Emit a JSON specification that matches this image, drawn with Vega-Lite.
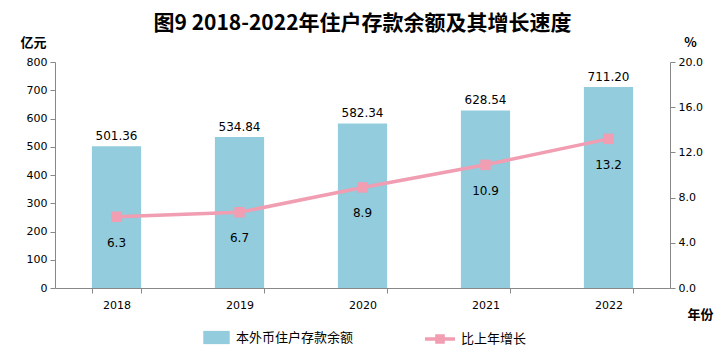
{
  "$schema": "https://vega.github.io/schema/vega-lite/v6.json",
  "width": 615,
  "height": 226,
  "autosize": "none",
  "padding": {"left": 55, "top": 62, "right": 49, "bottom": 63},
  "background": "white",
  "config": {
    "view": {"stroke": null},
    "font": "Noto Sans CJK SC",
    "axis": {"grid": false, "domainColor": "#888888", "tickColor": "#888888", "labelColor": "#000000", "labelFontSize": 11, "labelFont": "DejaVu Sans", "titleFont": "Noto Sans CJK SC", "titleFontWeight": "bold", "titleFontSize": 13, "titleColor": "#000000", "labelOverlap": false}
  },
  "title": {"text": "图9  2018-2022年住户存款余额及其增长速度", "fontSize": 21, "font": "Noto Sans CJK SC", "fontWeight": "bold", "anchor": "middle", "offset": 2, "color": "#000000"},
  "data": {"values": [
    {"year": "2018", "deposit": 501.36, "growth": 6.3, "s1": "本外币住户存款余额", "s2": "比上年增长"},
    {"year": "2019", "deposit": 534.84, "growth": 6.7, "s1": "本外币住户存款余额", "s2": "比上年增长"},
    {"year": "2020", "deposit": 582.34, "growth": 8.9, "s1": "本外币住户存款余额", "s2": "比上年增长"},
    {"year": "2021", "deposit": 628.54, "growth": 10.9, "s1": "本外币住户存款余额", "s2": "比上年增长"},
    {"year": "2022", "deposit": 711.20, "growth": 13.2, "s1": "本外币住户存款余额", "s2": "比上年增长"}
  ]},
  "encoding": {
    "x": {"field": "year", "type": "nominal", "scale": {"paddingInner": 0.6, "paddingOuter": 0.3},
      "axis": {"labelAngle": 0, "tickBand": "extent", "tickSize": 5, "labelPadding": 6, "title": "年份", "titleX": 645, "titleY": 20, "titleAnchor": "middle"}}
  },
  "layer": [
    {
      "encoding": {
        "y": {"field": "deposit", "type": "quantitative", "scale": {"domain": [0, 800]},
          "axis": {"values": [0,100,200,300,400,500,600,700,800], "labelOverlap": false, "tickSize": 5, "labelPadding": 3, "title": "亿元", "titleAngle": 0, "titleX": -22, "titleY": -20, "titleAnchor": "middle", "titleBaseline": "middle"}}
      },
      "layer": [
        {"mark": {"type": "bar", "color": "#93CCDC"},
          "encoding": {
            "fill": {"field": "s1", "type": "nominal", "scale": {"range": ["#93CCDC"]},
              "legend": {"orient": "none", "legendX": 148, "legendY": 262, "title": null, "labelFontSize": 13, "labelFont": "Noto Sans CJK SC", "labelColor": "#000000", "symbolType": "M-1,-0.5H1V0.5H-1Z", "symbolSize": 700, "symbolStrokeWidth": 0, "labelOffset": 6}}
          }},
        {"mark": {"type": "text", "dy": -10, "fontSize": 12, "font": "DejaVu Sans", "color": "#000000"},
          "encoding": {
            "text": {"field": "deposit", "type": "quantitative", "format": ".2f"}
          }}
      ]
    },
    {
      "encoding": {
        "y": {"field": "growth", "type": "quantitative", "scale": {"domain": [0, 20]},
          "axis": {"orient": "right", "values": [0,4,8,12,16,20], "format": ".1f", "tickSize": 5, "labelPadding": 3, "title": "%", "titleAngle": 0, "titleX": 20, "titleY": -20, "titleAnchor": "middle", "titleBaseline": "middle"}}
      },
      "layer": [
        {"mark": {"type": "line", "strokeWidth": 3.5},
          "encoding": {
            "stroke": {"field": "s2", "type": "nominal", "scale": {"range": ["#F19DB2"]},
              "legend": {"orient": "none", "legendX": 370, "legendY": 262, "title": null, "labelFontSize": 13, "labelFont": "Noto Sans CJK SC", "labelColor": "#000000", "symbolType": "M-1,-0.12H1V0.12H-1Z M-0.32,-0.32H0.32V0.32H-0.32Z", "symbolSize": 900, "symbolFillColor": "#F19DB2", "symbolStrokeWidth": 0, "labelOffset": 6}}
          }},
        {"mark": {"type": "point", "shape": "square", "filled": true, "size": 110, "color": "#F19DB2", "opacity": 1}},
        {"mark": {"type": "text", "dy": 26, "fontSize": 12, "font": "DejaVu Sans", "color": "#000000"},
          "encoding": {
            "text": {"field": "growth", "type": "quantitative", "format": ".1f"}
          }}
      ]
    }
  ],
  "resolve": {"scale": {"y": "independent", "fill": "independent", "stroke": "independent"}}
}
